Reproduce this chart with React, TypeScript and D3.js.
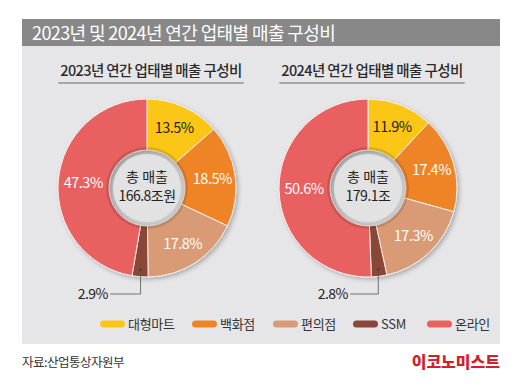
import React, { useEffect, useRef } from 'react';
import * as d3 from 'd3';

const categories = ['대형마트', '백화점', '편의점', 'SSM', '온라인'];
const colors = ['#fcc612', '#ef8427', '#d99b74', '#8a4638', '#e96060'];
const values2023 = [13.5, 18.5, 17.8, 2.9, 47.3];
const values2024 = [11.9, 17.4, 17.3, 2.8, 50.6];
const totals = ['166.8조원', '179.1조'];
const years = ['2023', '2024'];

const FONT = '"Noto Sans CJK KR", "Noto Sans", sans-serif';

export default function App() {
  const ref = useRef<SVGSVGElement>(null);

  useEffect(() => {
    if (!ref.current) return;
    const svg = d3.select(ref.current);
    svg.selectAll('*').remove();

    const defs = svg.append('defs');
    const f = defs.append('filter').attr('id', 'shadow').attr('x', '-20%').attr('y', '-20%').attr('width', '140%').attr('height', '140%');
    f.append('feDropShadow').attr('dx', 2).attr('dy', 2).attr('stdDeviation', 2).attr('flood-opacity', 0.25);

    svg.append('rect').attr('width', 532).attr('height', 387).attr('fill', '#fff');

    // title bar + panel
    svg.append('rect').attr('x', 22).attr('y', 46).attr('width', 478).attr('height', 298).attr('fill', '#e6e6e8');
    svg.append('rect').attr('x', 22).attr('y', 19).attr('width', 478).attr('height', 27).attr('fill', '#888888');
    svg.append('text').attr('x', 32).attr('y', 39.5).attr('fill', '#fff')
      .attr('font-size', 18).attr('letter-spacing', -0.6).attr('font-family', FONT)
      .text('2023년 및 2024년 연간 업태별 매출 구성비');

    const pie = d3.pie<number>().sort(null).value(d => d);
    const rOuter = 89;
    const rInner = 38;
    const arc = d3.arc<d3.PieArcDatum<number>>().innerRadius(rInner).outerRadius(rOuter);

    const charts = [
      { cx: 147, cy: 188, values: values2023, total: totals[0], year: years[0], leaderX: 110 },
      { cx: 368, cy: 188, values: values2024, total: totals[1], year: years[1], leaderX: 350 },
    ];

    // label radial positions (by slice index)
    const labelR = [66, 66, 66, 0, 64];

    charts.forEach(c => {
      const g = svg.append('g');
      // chart title
      const tt = g.append('text').attr('x', c.cx + 4).attr('y', 76).attr('text-anchor', 'middle')
        .attr('font-size', 14.5).attr('font-weight', 500).attr('letter-spacing', -0.6)
        .attr('fill', '#2b2b2b').attr('font-family', FONT)
        .text(`${c.year}년 연간 업태별 매출 구성비`);
      const bb = (tt.node() as SVGTextElement).getBBox();
      g.append('line').attr('x1', bb.x - 2).attr('x2', bb.x + bb.width + 2)
        .attr('y1', 83).attr('y2', 83).attr('stroke', '#666').attr('stroke-width', 1);

      const arcs = pie(c.values);
      const dg = g.append('g').attr('transform', `translate(${c.cx},${c.cy})`);
      dg.append('g').attr('filter', 'url(#shadow)')
        .selectAll('path').data(arcs).enter().append('path')
        .attr('d', arc)
        .attr('fill', (_, i) => colors[i])
        .attr('stroke', '#f4efe8').attr('stroke-width', 1);

      // inner shading ring + hole
      dg.append('circle').attr('r', 41).attr('fill', '#000').attr('opacity', 0.12);
      dg.append('circle').attr('r', 34).attr('fill', '#e2e2e2');

      dg.append('text').attr('y', -6).attr('text-anchor', 'middle')
        .attr('font-size', 14).attr('fill', '#222').attr('font-family', FONT)
        .text('총 매출');
      dg.append('text').attr('y', 13).attr('text-anchor', 'middle')
        .attr('font-size', 14).attr('letter-spacing', -0.5).attr('fill', '#222').attr('font-family', FONT)
        .text(c.total);

      arcs.forEach((a, i) => {
        if (i === 3) return;
        const mid = (a.startAngle + a.endAngle) / 2;
        const r = labelR[i];
        const x = r * Math.sin(mid);
        const y = -r * Math.cos(mid);
        dg.append('text').attr('x', x).attr('y', y + 5).attr('text-anchor', 'middle')
          .attr('font-size', 14.5).attr('letter-spacing', -0.5)
          .attr('fill', i === 0 ? '#222' : '#fff').attr('font-family', FONT)
          .text(`${a.data}%`);
      });

      // SSM leader
      const s = arcs[3];
      const mid = (s.startAngle + s.endAngle) / 2;
      const ax = c.cx + 82 * Math.sin(mid);
      const ay = c.cy - 82 * Math.cos(mid);
      g.append('circle').attr('cx', ax).attr('cy', ay).attr('r', 1.2).attr('fill', '#333');
      g.append('path').attr('d', `M${ax},${ay}V294H${c.leaderX}`)
        .attr('fill', 'none').attr('stroke', '#555').attr('stroke-width', 0.8);
      g.append('text').attr('x', c.leaderX - 2).attr('y', 299).attr('text-anchor', 'end')
        .attr('font-size', 14).attr('letter-spacing', -0.5).attr('fill', '#222').attr('font-family', FONT)
        .text(`${s.data}%`);
    });

    // legend
    const legendX = [100, 192, 273, 353, 427];
    const lg = svg.append('g');
    categories.forEach((cat, i) => {
      lg.append('rect').attr('x', legendX[i]).attr('y', 320.5).attr('width', 25).attr('height', 7)
        .attr('rx', 3.5).attr('fill', colors[i]);
      lg.append('text').attr('x', legendX[i] + 28).attr('y', 329).attr('font-size', 13)
        .attr('letter-spacing', -0.3).attr('fill', '#333').attr('font-family', FONT).text(cat);
    });

    // footer
    svg.append('text').attr('x', 22).attr('y', 367).attr('font-size', 12.5).attr('letter-spacing', -0.5)
      .attr('fill', '#333').attr('font-family', FONT).text('자료:산업통상자원부');
    svg.append('text').attr('x', 500).attr('y', 368).attr('text-anchor', 'end').attr('font-size', 16)
      .attr('font-weight', 900).attr('fill', '#d0202a').attr('font-family', FONT).text('이코노미스트');
  }, []);

  return (
    <svg ref={ref} width={532} height={387} style={{ position: 'absolute', left: 0, top: 0, display: 'block' }} />
  );
}
